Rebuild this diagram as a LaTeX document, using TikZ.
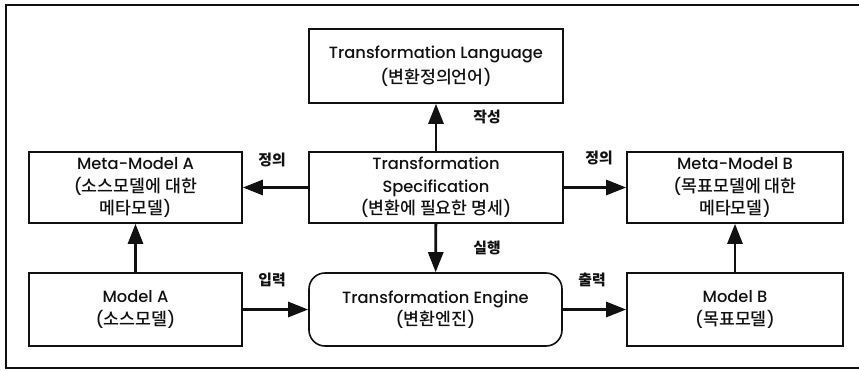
\documentclass[tikz,border=0pt]{standalone}
\usepackage{fontspec}
\setmainfont{Poppins}[UprightFont={* Medium}]
\newfontfamily\kr{Noto Sans CJK KR Medium}[Scale=1.06]
\usetikzlibrary{arrows.meta}
\definecolor{ink}{HTML}{111111}

\begin{document}
\begin{tikzpicture}[
  x=1pt, y=-1pt,
  font=\fontsize{16.3}{22.5}\selectfont\color{ink},
  box/.style={draw=ink, line width=1.6pt, align=center, inner sep=0pt},
  flow/.style={-{Triangle[length=20pt, width=15pt]}, line width=2.8pt, draw=ink},
  tag/.style={font=\fontsize{14}{16}\selectfont\kr\bfseries\color{ink}},
]
\useasboundingbox (0,0) rectangle (859,370);

% ---- Outer frame -------------------------------------------------------------
\draw[ink, line width=1.2pt] (859,5) -- (6,5) -- (6,368) -- (859,368);

% ---- Boxes -------------------------------------------------------------------
\node[box, minimum width=254pt, minimum height=74pt] (lang) at (436,66)
  {Transformation Language\\[3pt]({\kr 변환정의언어})};
\node[box, minimum width=213pt, minimum height=71pt] (metaA) at (135.5,187.5)
  {Meta{-}Model A\\({\kr 소스모델에 대한}\\{\kr 메타모델})};
\node[box, minimum width=254pt, minimum height=71pt] (spec) at (436,187.5)
  {Transformation\\Specification\\({\kr 변환에 필요한 명세})};
\node[box, minimum width=216pt, minimum height=71pt] (metaB) at (735,187.5)
  {Meta{-}Model B\\({\kr 목표모델에 대한}\\{\kr 메타모델})};
\node[box, minimum width=213pt, minimum height=73pt] (modelA) at (135.5,309.5)
  {Model A\\({\kr 소스모델})};
\node[box, rounded corners=16pt, minimum width=253pt, minimum height=73pt]
  (engine) at (435.5,309.5) {Transformation Engine\\({\kr 변환엔진})};
\node[box, minimum width=216pt, minimum height=73pt] (modelB) at (735,309.5)
  {Model B\\({\kr 목표모델})};

% ---- Connectors --------------------------------------------------------------
\draw[flow] (spec) -- (lang);
\draw[flow] (spec) -- (metaA);
\draw[flow] (spec) -- (metaB);
\draw[flow] (spec) -- (engine);
\draw[flow] (modelA) -- (metaA);
\draw[flow] (modelA) -- (engine);
\draw[flow] (engine) -- (modelB);
\draw[flow] (modelB) -- (metaB);

% ---- Connector labels --------------------------------------------------------
\node[tag] (lwrite) at (487,117) {작성};
\node[tag] (ldefA) at (272,160) {정의};
\node[tag] (ldefB) at (599,158) {정의};
\node[tag] (lrun) at (487,248) {실행};
\node[tag] (lin) at (272,280) {입력};
\node[tag] (lout) at (592,280) {출력};

\end{tikzpicture}
\end{document}
